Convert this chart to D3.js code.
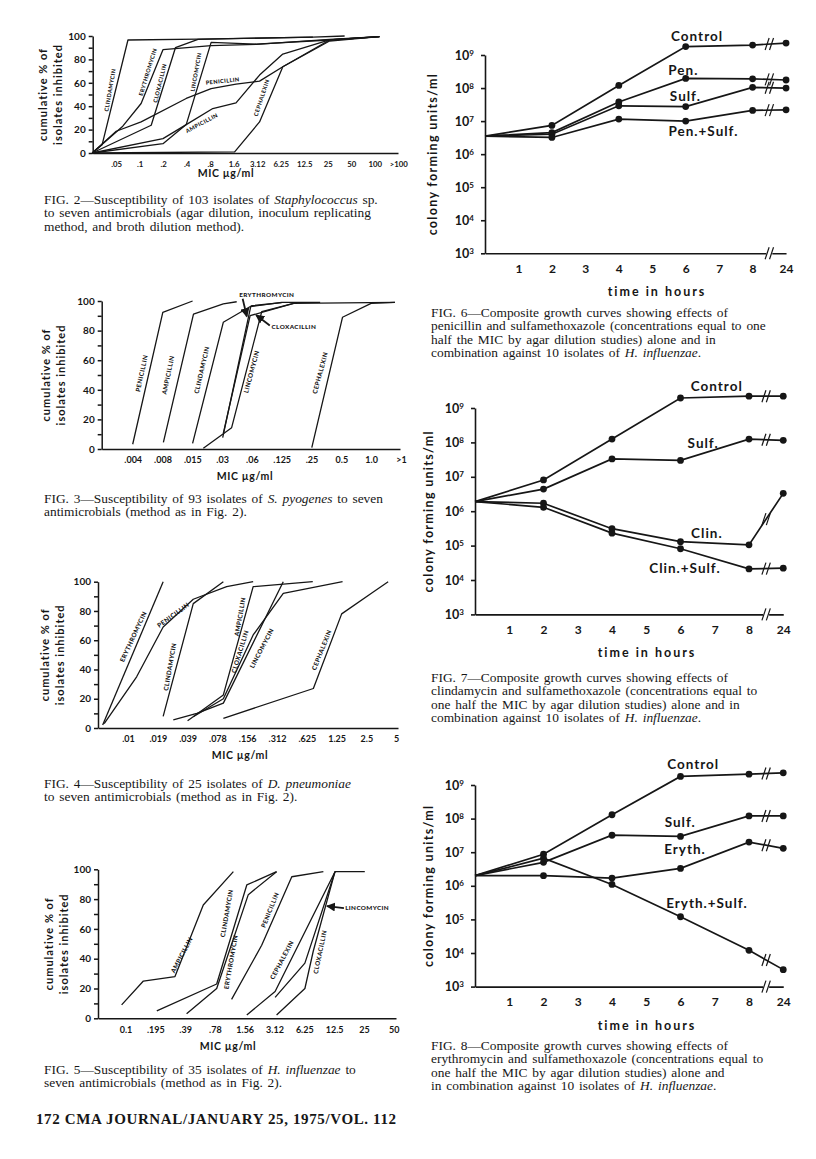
<!DOCTYPE html>
<html>
<head>
<meta charset="utf-8">
<script src="https://cdnjs.cloudflare.com/ajax/libs/d3/7.8.5/d3.min.js"></script>
<style>
body { margin: 0; background: #fff; }
text { fill: #161616; }
</style>
</head>
<body>
<script>

// ---- MIC charts: x is the position of the dilution step (0 = first tick label), y is cumulative %
var fig2Ticks = [".05", ".1", ".2", ".4", ".8", "1.6", "3.12", "6.25", "12.5", "25", "50", "100", ">100"];
var fig2Clindamycin = [[-1.02,0],[-0.6,7],[0.5,96.6],[3.48,97.4],[8.37,99.1],[9.72,100]];
var fig2Erythromycin = [[-1.02,0],[0.28,22.9],[1.06,42.3],[1.99,88.3],[4.04,91.7],[5.96,92.9],[9.08,97.1],[11.2,99.4]];
var fig2Cloxacillin = [[-1.02,0],[1.49,23.7],[2.52,90],[3.48,97.1],[8.37,99.1]];
var fig2Lincomycin = [[-1.02,0],[1.99,8],[2.98,24.3],[4.04,94.6],[5.96,93.1],[9.08,96.6],[11.2,99.4]];
var fig2Penicillin = [[-1.02,0],[0,18.6],[1.06,26.6],[2.98,46.6],[4.04,55.1],[5.1,58.9],[6.1,61.4],[7.09,73.7],[9.08,96.6],[11.2,99.4]];
var fig2Ampicillin = [[-1.02,0],[1.99,12.3],[2.98,24.3],[4.11,38],[5.1,42.9],[6.1,66.6],[7.09,84.6],[9.08,96.6],[11.2,99.4]];
var fig2Cephalexin = [[-1.02,0],[5.04,0.9],[6.1,26.6],[7.09,73.7],[9.08,95.7],[11.2,99.4]];

var fig3Ticks = [".004", ".008", ".015", ".03", ".06", ".125", ".25", "0.5", "1.0", ">1"];
var fig3Penicillin = [[0,3.2],[1.01,92.3],[2.01,100]];
var fig3Ampicillin = [[1.03,4.5],[2.04,91.2],[3.04,98],[3.49,99.5]];
var fig3Clindamycin = [[2.01,3.8],[3.04,85.6],[3.99,96.8],[5,98.9]];
var fig3Erythromycin = [[3.02,7.7],[3.96,96.2],[5,99.1],[6.29,99.1]];
var fig3Cloxacillin = [[3.04,10.6],[3.94,90.1],[5.4,98.4]];
var fig3Lincomycin = [[2.37,0.5],[3.32,14.4],[4.33,92.8],[5.4,98.4],[8.8,99.1]];
var fig3Cephalexin = [[6.01,0.9],[7.04,89],[8,98.4],[8.8,99.1]];

var fig4Ticks = [".01", ".019", ".039", ".078", ".156", ".312", ".625", "1.25", "2.5", "5"];
var fig4Erythromycin = [[-0.85,2],[1.18,100]];
var fig4Penicillin = [[-0.8,3],[0.29,35],[1.18,69],[2.19,88],[3.31,96.7],[4.2,100]];
var fig4Clindamycin = [[1.18,8],[2.19,85],[3.2,100]];
var fig4Ampicillin = [[2.0,5],[3.2,22.6],[4.2,96.6],[6.2,100]];
var fig4Cloxacillin = [[1.52,5.5],[2.31,10],[3.2,17],[5.21,100]];
var fig4Lincomycin = [[2.19,7.7],[3.2,20],[4.2,63.6],[5.21,92],[7.2,100]];
var fig4Cephalexin = [[3.2,6.6],[6.22,27],[7.17,78],[8.23,93],[8.73,100]];

var fig5Ticks = ["0.1", ".195", ".39", ".78", "1.56", "3.12", "6.25", "12.5", "25", "50"];
var fig5Ampicillin = [[-0.13,9],[0.6,25],[1.66,28],[2.61,76],[3.62,98.4]];
var fig5Clindamycin = [[1.05,5],[3.06,23],[4.07,89.5],[5.07,98.4]];
var fig5Erythromycin = [[2.05,3],[3.06,20],[4.12,83],[5.07,98.4]];
var fig5Penicillin = [[3.56,12.7],[4.57,49],[5.58,95],[6.64,98.4]];
var fig5Cephalexin = [[4.07,2.2],[5.02,18],[7.03,98.4]];
var fig5Lincomycin = [[5.02,14],[6.02,37],[7.03,98.4],[8.03,98.4]];
var fig5Cloxacillin = [[5.07,2.2],[6.02,20],[6.3,45],[7.03,98.4]];

// ---- growth curves: colony forming units/ml at each sampling hour
var hours = [0, 2, 4, 6, 8, 24];
var hourTicks = ["1", "2", "3", "4", "5", "6", "7", "8", "24"];
var decades = [1e3, 1e4, 1e5, 1e6, 1e7, 1e8, 1e9];

var fig6Control = [3.5e6, 7.4e6, 1.2e8, 1.8e9, 2.0e9, 2.3e9];
var fig6Pen = [3.5e6, 4.5e6, 3.8e7, 1.95e8, 1.9e8, 1.75e8];
var fig6Sulf = [3.5e6, 4.0e6, 2.9e7, 2.75e7, 1.05e8, 1.0e8];
var fig6PenSulf = [3.5e6, 3.2e6, 1.15e7, 1.0e7, 2.1e7, 2.2e7];

var fig7Control = [1.9e6, 8.1e6, 1.25e8, 1.95e9, 2.2e9, 2.2e9];
var fig7Sulf = [1.9e6, 4.4e6, 3.3e7, 3.0e7, 1.25e8, 1.15e8];
var fig7Clin = [1.9e6, 1.7e6, 3.1e5, 1.3e5, 1.05e5, 3.3e6];
var fig7ClinSulf = [1.9e6, 1.3e6, 2.3e5, 8.1e4, 2.1e4, 2.2e4];

var fig8Control = [2.0e6, 8.7e6, 1.3e8, 1.8e9, 2.1e9, 2.3e9];
var fig8Sulf = [2.0e6, 5.0e6, 3.2e7, 2.95e7, 1.2e8, 1.2e8];
var fig8Eryth = [2.0e6, 2.0e6, 1.7e6, 3.3e6, 2.0e7, 1.3e7];
var fig8ErythSulf = [2.0e6, 6.6e6, 1.1e6, 1.2e5, 1.2e4, 3.2e3];

// ---- captions
var cap2 = ["FIG. 2—Susceptibility of 103 isolates of _Staphylococcus_ sp.", "to seven antimicrobials (agar dilution, inoculum replicating", "method, and broth dilution method)."];
var cap3 = ["FIG. 3—Susceptibility of 93 isolates of _S. pyogenes_ to seven", "antimicrobials (method as in Fig. 2)."];
var cap4 = ["FIG. 4—Susceptibility of 25 isolates of _D. pneumoniae_", "to seven antimicrobials (method as in Fig. 2)."];
var cap5 = ["FIG. 5—Susceptibility of 35 isolates of _H. influenzae_ to", "seven antimicrobials (method as in Fig. 2)."];
var cap6 = ["FIG. 6—Composite growth curves showing effects of", "penicillin and sulfamethoxazole (concentrations equal to one", "half the MIC by agar dilution studies) alone and in", "combination against 10 isolates of _H. influenzae_."];
var cap7 = ["FIG. 7—Composite growth curves showing effects of", "clindamycin and sulfamethoxazole (concentrations equal to", "one half the MIC by agar dilution studies) alone and in", "combination against 10 isolates of _H. influenzae_."];
var cap8 = ["FIG. 8—Composite growth curves showing effects of", "erythromycin and sulfamethoxazole (concentrations equal to", "one half the MIC by agar dilution studies) alone and", "in combination against 10 isolates of _H. influenzae_."];
var footer = "172 CMA JOURNAL/JANUARY 25, 1975/VOL. 112";


var svg = d3.select("body").append("svg")
    .attr("width", 816)
    .attr("height", 1159);

svg.append("defs").append("marker")
    .attr("id", "head")
    .attr("viewBox", "0 0 10 10")
    .attr("refX", 9).attr("refY", 5)
    .attr("markerWidth", 5).attr("markerHeight", 5)
    .attr("orient", "auto")
  .append("path")
    .attr("d", "M0,0 L10,5 L0,10 z")
    .style("fill", "#161616");

var SANS = "Lato, 'Open Sans', sans-serif";
var SERIF = "'Liberation Serif', 'DejaVu Serif', serif";

// captions are set ragged right, like the printed page, with loose word spacing
function caption(lines, x, y) {
  lines.forEach(function(line, i) {
    var t = svg.append("text")
      .attr("x", x)
      .attr("y", y + i * 13.4)
      .style("font-family", SERIF)
      .style("font-size", "13.4px")
      .style("word-spacing", "1.5px");
    line.split("_").forEach(function(part, k) {
      t.append("tspan").text(part).style("font-style", k % 2 ? "italic" : "normal");
    });
  });
}

function micChart(c) {
  var g = svg.append("g");

  var x = d3.scaleLinear()
    .domain([(c.x0 - c.x1) / c.step, (c.right - c.x1) / c.step])
    .range([c.x0, c.right]);
  var y = d3.scaleLinear().domain([0, 100]).range([c.yBot, c.yTop]);

  var xa = g.append("g")
    .attr("transform", "translate(0," + c.yBot + ")")
    .call(d3.axisBottom(x)
      .tickValues(d3.range(c.ticks.length))
      .tickFormat(function(i) { return c.ticks[i]; })
      .tickSize(0).tickSizeOuter(0).tickPadding(c.pad));
  xa.selectAll("text").style("font-family", SANS).style("font-weight", 700).style("font-size", (c.tickSize || 9) + "px");

  var ya = g.append("g")
    .attr("transform", "translate(" + c.x0 + ",0)")
    .call(d3.axisLeft(y)
      .tickValues(d3.range(0, 101, 10))
      .tickFormat(function(d) { return d % 20 === 0 ? d : ""; })
      .tickSize(4).tickSizeOuter(0).tickPadding(3));
  ya.selectAll("text").style("font-family", SANS).style("font-weight", 700).style("font-size", "10px");
  g.selectAll(".domain, .tick line").style("stroke", "#161616").style("stroke-width", 1.5);

  var line = d3.line()
    .x(function(d) { return x(d[0]); })
    .y(function(d) { return y(d[1]); });

  g.selectAll(".drug")
    .data(c.series)
    .enter()
    .append("path")
    .attr("d", function(d) { return line(d); })
    .style("fill", "none")
    .style("stroke", "#161616")
    .style("stroke-width", 1.3)
    .style("stroke-linejoin", "round");

  c.labels.forEach(function(l) {
    var t = g.append("text")
      .attr("text-anchor", l.anchor || "middle")
      .attr("dy", "0.35em")
      .style("font-family", SANS)
      .style("font-weight", 900)
      .style("font-size", (l.size || 6.3) + "px")
      .style("letter-spacing", "0.4px")
      .text(l.name);
    t.attr("transform", "translate(" + x(l.at[0]) + "," + y(l.at[1]) + ") rotate(" + (l.rot || 0) + ")");
  });

  (c.arrows || []).forEach(function(a) {
    g.append("line")
      .attr("x1", x(a[0][0])).attr("y1", y(a[0][1]))
      .attr("x2", x(a[1][0])).attr("y2", y(a[1][1]))
      .style("stroke", "#161616").style("stroke-width", 1.8)
      .attr("marker-end", "url(#head)");
  });

  g.append("text")
    .attr("x", c.micX).attr("y", c.yBot + c.micDy)
    .attr("text-anchor", "middle")
    .style("font-family", SANS).style("font-weight", 700).style("font-size", "10.5px")
    .style("letter-spacing", "0.6px")
    .text("MIC µg/ml");

  var mid = (c.yTop + c.yBot) / 2;
  [["cumulative % of", c.labX], ["isolates inhibited", c.labX + 15]].forEach(function(p) {
    g.append("text")
      .attr("transform", "translate(" + p[1] + "," + mid + ") rotate(-90)")
      .attr("text-anchor", "middle")
      .style("font-family", SANS).style("font-weight", 700).style("font-size", "11px")
      .style("letter-spacing", "1px")
      .text(p[0]);
  });
}

function breakMark(g, cx, cy) {
  [-2.2, 2.2].forEach(function(o) {
    g.append("line")
      .attr("x1", cx + o - 2).attr("y1", cy + 6)
      .attr("x2", cx + o + 2).attr("y2", cy - 6)
      .style("stroke", "#161616").style("stroke-width", 1.2);
  });
}

function growthChart(c) {
  var g = svg.append("g");
  var pos = function(h) { return h === 24 ? 9 : h; };

  var x = d3.scaleLinear().domain([0, 9]).range([c.x0, c.x0 + 9 * c.step]);
  var y = d3.scaleLog().domain([1e3, 1e9]).range([c.yBot, c.yTop]);

  var xa = g.append("g")
    .attr("transform", "translate(0," + c.yBot + ")")
    .call(d3.axisBottom(x)
      .tickValues(d3.range(1, 10))
      .tickFormat(function(i) { return hourTicks[i - 1]; })
      .tickSize(0).tickSizeOuter(0).tickPadding(11));
  xa.selectAll("text").style("font-family", SANS).style("font-weight", 700).style("font-size", "12px");

  var ya = g.append("g")
    .attr("transform", "translate(" + c.x0 + ",0)")
    .call(d3.axisLeft(y).tickValues(decades).tickSize(4).tickSizeOuter(0).tickPadding(7));
  ya.selectAll(".tick text").each(function(d) {
    var t = d3.select(this).text("10")
      .style("font-family", SANS).style("font-weight", 700).style("font-size", "12.5px");
    t.append("tspan").attr("dy", "-0.5em").style("font-size", "8px").text(Math.round(Math.log10(d)));
  });
  g.selectAll(".domain, .tick line").style("stroke", "#161616").style("stroke-width", 1.6);

  // break on the time axis between 8 and 24 h
  var bx = (x(8) + x(9)) / 2;
  g.append("rect").attr("x", bx - 3).attr("y", c.yBot - 2).attr("width", 6).attr("height", 4).style("fill", "#fff");
  breakMark(g, bx, c.yBot);

  var line = d3.line()
    .x(function(d, i) { return x(pos(hours[i])); })
    .y(function(d) { return y(d); });

  c.series.forEach(function(s) {
    g.append("path")
      .attr("d", line(s.values))
      .style("fill", "none")
      .style("stroke", "#161616")
      .style("stroke-width", 1.7);

    g.selectAll(null)
      .data(s.values.slice(1))
      .enter()
      .append("circle")
      .attr("cx", function(d, i) { return x(pos(hours[i + 1])); })
      .attr("cy", function(d) { return y(d); })
      .attr("r", 3.4)
      .style("fill", "#161616");

    var n = s.values.length;
    breakMark(g, bx, (y(s.values[n - 2]) + y(s.values[n - 1])) / 2);

    g.append("text")
      .attr("x", x(s.at[0])).attr("y", y(s.at[1]))
      .attr("text-anchor", "middle")
      .attr("dy", "0.35em")
      .style("font-family", SANS).style("font-weight", 700).style("font-size", "13.5px")
      .style("letter-spacing", "1px")
      .text(s.name);
  });

  g.append("text")
    .attr("x", c.x0 + 172).attr("y", c.yBot + 43)
    .attr("text-anchor", "middle")
    .style("font-family", SANS).style("font-weight", 700).style("font-size", "12.5px")
    .style("letter-spacing", "2px")
    .text("time in hours");

  g.append("text")
    .attr("transform", "translate(" + c.labX + "," + ((c.yTop + c.yBot) / 2) + ") rotate(-90)")
    .attr("text-anchor", "middle")
    .style("font-family", SANS).style("font-weight", 700).style("font-size", "12.5px")
    .style("letter-spacing", "1.3px")
    .text("colony forming units/ml");
}

// ---- left column
micChart({
  x0: 92.7, x1: 116.2, step: 23.5, right: 398, yTop: 36, yBot: 153, pad: 8, tickSize: 7.8,
  ticks: fig2Ticks, micX: 226, micDy: 24, labX: 47,
  series: [fig2Clindamycin, fig2Erythromycin, fig2Cloxacillin, fig2Lincomycin, fig2Penicillin, fig2Ampicillin, fig2Cephalexin],
  labels: [
    {name: "CLINDAMYCIN", at: [-0.26, 53.8], rot: -80, size: 5.6},
    {name: "ERYTHROMYCIN", at: [1.35, 69.2], rot: -73, size: 5.6},
    {name: "CLOXACILLIN", at: [1.86, 59.8], rot: -76, size: 5.6},
    {name: "LINCOMYCIN", at: [3.4, 69.2], rot: -80, size: 5.6},
    {name: "PENICILLIN", at: [4.53, 61.5], rot: -6, size: 5.6},
    {name: "AMPICILLIN", at: [3.64, 25.6], rot: -28, size: 5.6},
    {name: "CEPHALEXIN", at: [6.19, 47.3], rot: -72, size: 5.6}
  ]
});
caption(cap2, 44, 204);

micChart({
  x0: 101.7, x1: 132.7, step: 29.8, right: 400, yTop: 301, yBot: 449, pad: 8,
  ticks: fig3Ticks, micX: 245, micDy: 31, labX: 50,
  series: [fig3Penicillin, fig3Ampicillin, fig3Clindamycin, fig3Erythromycin, fig3Cloxacillin, fig3Lincomycin, fig3Cephalexin],
  labels: [
    {name: "PENICILLIN", at: [0.3, 51.1], rot: -78},
    {name: "AMPICILLIN", at: [1.19, 50], rot: -78},
    {name: "CLINDAMYCIN", at: [2.32, 53.4], rot: -77},
    {name: "LINCOMYCIN", at: [3.99, 52.2], rot: -75},
    {name: "CEPHALEXIN", at: [6.29, 51.4], rot: -75},
    {name: "ERYTHROMYCIN", at: [4.5, 104.5]},
    {name: "CLOXACILLIN", at: [4.66, 82.4], anchor: "start"}
  ],
  arrows: [
    [[3.69, 101.5], [3.83, 89.5]],
    [[4.6, 83.5], [4.14, 90.5]]
  ]
});
caption(cap3, 44, 503);

micChart({
  x0: 98, x1: 128, step: 29.8, right: 398, yTop: 581.7, yBot: 728, pad: 8,
  ticks: fig4Ticks, micX: 240, micDy: 31, labX: 49,
  series: [fig4Erythromycin, fig4Penicillin, fig4Clindamycin, fig4Ampicillin, fig4Cloxacillin, fig4Lincomycin, fig4Cephalexin],
  labels: [
    {name: "ERYTHROMYCIN", at: [0.18, 62.4], rot: -65},
    {name: "PENICILLIN", at: [1.52, 77.2], rot: -36},
    {name: "CLINDAMYCIN", at: [1.41, 41.9], rot: -80},
    {name: "AMPICILLIN", at: [3.76, 76.1], rot: -80},
    {name: "CLOXACILLIN", at: [3.76, 52.2], rot: -73},
    {name: "LINCOMYCIN", at: [4.49, 54.5], rot: -62},
    {name: "CEPHALEXIN", at: [6.5, 53.3], rot: -68}
  ]
});
caption(cap4, 44, 788);

micChart({
  x0: 98, x1: 125.5, step: 29.8, right: 396, yTop: 869.3, yBot: 1018.3, pad: 8,
  ticks: fig5Ticks, micX: 228, micDy: 32, labX: 53,
  series: [fig5Ampicillin, fig5Clindamycin, fig5Erythromycin, fig5Penicillin, fig5Cephalexin, fig5Lincomycin, fig5Cloxacillin],
  labels: [
    {name: "AMPICILLIN", at: [1.89, 42.5], rot: -62},
    {name: "CLINDAMYCIN", at: [3.4, 70.5], rot: -80},
    {name: "ERYTHROMYCIN", at: [3.54, 37.8], rot: -80},
    {name: "PENICILLIN", at: [4.85, 72.7], rot: -68},
    {name: "CEPHALEXIN", at: [5.25, 39.1], rot: -62},
    {name: "CLOXACILLIN", at: [6.53, 44.5], rot: -78},
    {name: "LINCOMYCIN", at: [7.37, 74], anchor: "start"}
  ],
  arrows: [
    [[7.33, 74], [6.76, 75.3]]
  ]
});
caption(cap5, 44, 1074);

svg.append("text")
  .attr("x", 36).attr("y", 1124)
  .attr("textLength", 360).attr("lengthAdjust", "spacing")
  .style("font-family", SERIF).style("font-weight", 700).style("font-size", "15px")
  .text(footer);

// ---- right column
growthChart({
  x0: 485, step: 33.45, yTop: 55, yBot: 253.3, labX: 437,
  series: [
    {name: "Control", values: fig6Control, at: [6.34, 3.7e9]},
    {name: "Pen.", values: fig6Pen, at: [5.93, 3.5e8]},
    {name: "Sulf.", values: fig6Sulf, at: [5.99, 5.5e7]},
    {name: "Pen.+Sulf.", values: fig6PenSulf, at: [6.53, 4.8e6]}
  ]
});
caption(cap6, 431, 317);

growthChart({
  x0: 475, step: 34.25, yTop: 408, yBot: 614.4, labX: 433,
  series: [
    {name: "Control", values: fig7Control, at: [7.06, 4.2e9]},
    {name: "Sulf.", values: fig7Sulf, at: [6.66, 9.5e7]},
    {name: "Clin.", values: fig7Clin, at: [6.77, 2.3e5]},
    {name: "Clin.+Sulf.", values: fig7ClinSulf, at: [6.13, 2.2e4]}
  ]
});
caption(cap7, 431, 682);

growthChart({
  x0: 475, step: 34.25, yTop: 785, yBot: 986.6, labX: 433,
  series: [
    {name: "Control", values: fig8Control, at: [6.37, 4.0e9]},
    {name: "Sulf.", values: fig8Sulf, at: [5.99, 7.6e7]},
    {name: "Eryth.", values: fig8Eryth, at: [6.13, 1.2e7]},
    {name: "Eryth.+Sulf.", values: fig8ErythSulf, at: [6.77, 3.1e5]}
  ]
});
caption(cap8, 431, 1050);

</script>
</body>
</html>
